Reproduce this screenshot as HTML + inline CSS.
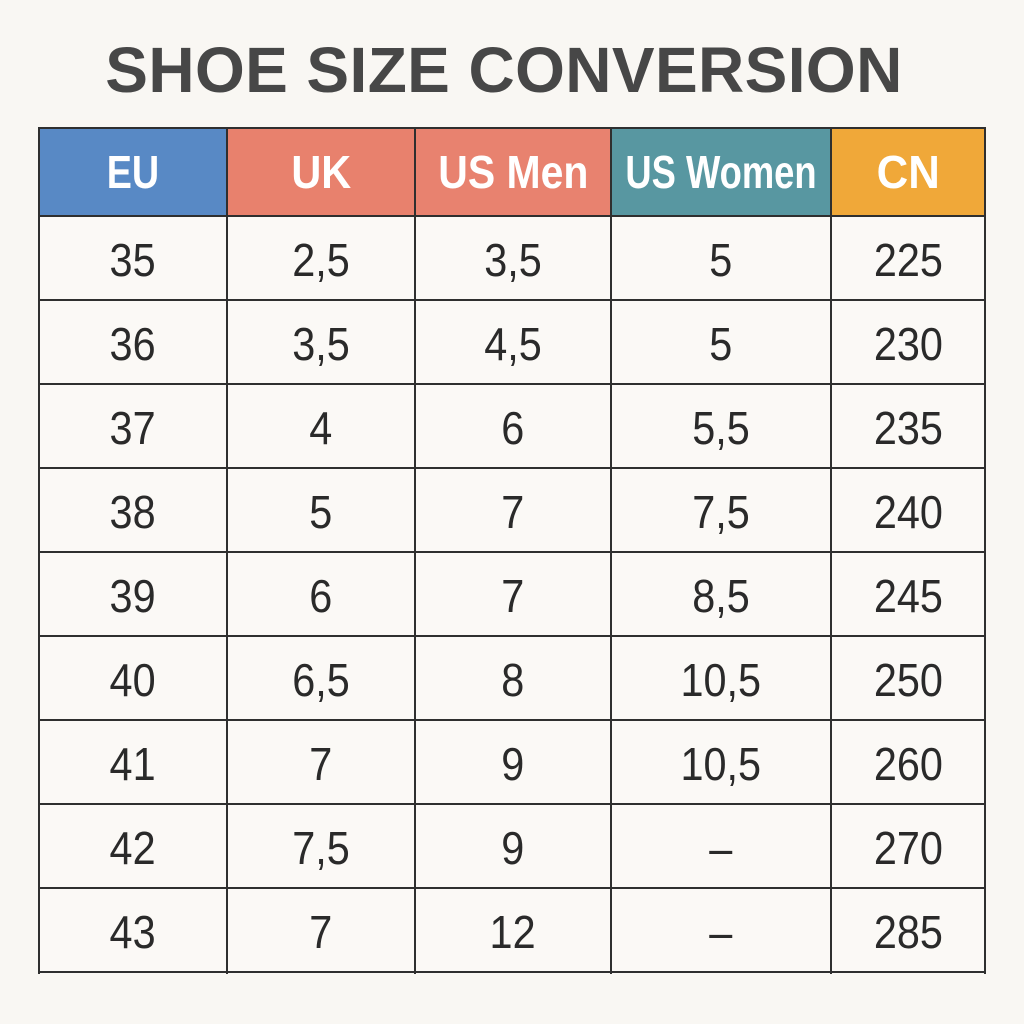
<!DOCTYPE html>
<html>
<head>
<meta charset="utf-8">
<style>
  html, body { margin:0; padding:0; }
  body { width:1024px; height:1024px; background:#f9f7f3; position:relative; overflow:hidden;
         font-family:"Liberation Sans", "DejaVu Sans", sans-serif; }
  .title { position:absolute; left:0; width:1008px; top:30px; height:80px; display:flex;
           align-items:center; justify-content:center; font-size:64px; font-weight:bold;
           color:#474747; letter-spacing:0.4px; }
  .cell { position:absolute; display:flex; align-items:center; justify-content:center; }
  .hd { font-weight:bold; color:#ffffff; font-size:46px; }
  .num { color:#2a2a2a; font-size:46px; padding-top:4px; box-sizing:border-box; }
  .cell span { display:inline-block; white-space:nowrap; }
  .num span { transform:scaleX(0.9); }
  .hl { position:absolute; left:38px; width:948px; height:2px; background:#2f2f2f; }
  .vl { position:absolute; top:127px; height:847px; width:2px; background:#2f2f2f; }
</style>
</head>
<body>
<div class="title">SHOE SIZE CONVERSION</div>

<!-- table background -->
<div style="position:absolute;left:39px;top:128px;width:946px;height:844px;background:#fbf9f6;"></div>

<!-- header fills -->
<div class="cell hd" style="left:39px;top:128px;width:188px;height:88px;background:#5889c5;"><span style="transform:scaleX(0.82)">EU</span></div>
<div class="cell hd" style="left:227px;top:128px;width:188px;height:88px;background:#e8816d;"><span style="transform:scaleX(0.9)">UK</span></div>
<div class="cell hd" style="left:415px;top:128px;width:196px;height:88px;background:#e8826f;"><span style="transform:scaleX(0.89)">US Men</span></div>
<div class="cell hd" style="left:611px;top:128px;width:220px;height:88px;background:#5897a1;"><span style="transform:scaleX(0.79)">US Women</span></div>
<div class="cell hd" style="left:831px;top:128px;width:154px;height:88px;background:#f0a839;"><span style="transform:scaleX(0.95)">CN</span></div>

<!-- rows -->
<!-- columns: 39-227, 227-415, 415-611, 611-831, 831-985 -->
<div class="cell num" style="left:39px;top:216px;width:188px;height:84px;"><span>35</span></div>
<div class="cell num" style="left:227px;top:216px;width:188px;height:84px;"><span>2,5</span></div>
<div class="cell num" style="left:415px;top:216px;width:196px;height:84px;"><span>3,5</span></div>
<div class="cell num" style="left:611px;top:216px;width:220px;height:84px;"><span>5</span></div>
<div class="cell num" style="left:831px;top:216px;width:154px;height:84px;"><span>225</span></div>

<div class="cell num" style="left:39px;top:300px;width:188px;height:84px;"><span>36</span></div>
<div class="cell num" style="left:227px;top:300px;width:188px;height:84px;"><span>3,5</span></div>
<div class="cell num" style="left:415px;top:300px;width:196px;height:84px;"><span>4,5</span></div>
<div class="cell num" style="left:611px;top:300px;width:220px;height:84px;"><span>5</span></div>
<div class="cell num" style="left:831px;top:300px;width:154px;height:84px;"><span>230</span></div>

<div class="cell num" style="left:39px;top:384px;width:188px;height:84px;"><span>37</span></div>
<div class="cell num" style="left:227px;top:384px;width:188px;height:84px;"><span>4</span></div>
<div class="cell num" style="left:415px;top:384px;width:196px;height:84px;"><span>6</span></div>
<div class="cell num" style="left:611px;top:384px;width:220px;height:84px;"><span>5,5</span></div>
<div class="cell num" style="left:831px;top:384px;width:154px;height:84px;"><span>235</span></div>

<div class="cell num" style="left:39px;top:468px;width:188px;height:84px;"><span>38</span></div>
<div class="cell num" style="left:227px;top:468px;width:188px;height:84px;"><span>5</span></div>
<div class="cell num" style="left:415px;top:468px;width:196px;height:84px;"><span>7</span></div>
<div class="cell num" style="left:611px;top:468px;width:220px;height:84px;"><span>7,5</span></div>
<div class="cell num" style="left:831px;top:468px;width:154px;height:84px;"><span>240</span></div>

<div class="cell num" style="left:39px;top:552px;width:188px;height:84px;"><span>39</span></div>
<div class="cell num" style="left:227px;top:552px;width:188px;height:84px;"><span>6</span></div>
<div class="cell num" style="left:415px;top:552px;width:196px;height:84px;"><span>7</span></div>
<div class="cell num" style="left:611px;top:552px;width:220px;height:84px;"><span>8,5</span></div>
<div class="cell num" style="left:831px;top:552px;width:154px;height:84px;"><span>245</span></div>

<div class="cell num" style="left:39px;top:636px;width:188px;height:84px;"><span>40</span></div>
<div class="cell num" style="left:227px;top:636px;width:188px;height:84px;"><span>6,5</span></div>
<div class="cell num" style="left:415px;top:636px;width:196px;height:84px;"><span>8</span></div>
<div class="cell num" style="left:611px;top:636px;width:220px;height:84px;"><span>10,5</span></div>
<div class="cell num" style="left:831px;top:636px;width:154px;height:84px;"><span>250</span></div>

<div class="cell num" style="left:39px;top:720px;width:188px;height:84px;"><span>41</span></div>
<div class="cell num" style="left:227px;top:720px;width:188px;height:84px;"><span>7</span></div>
<div class="cell num" style="left:415px;top:720px;width:196px;height:84px;"><span>9</span></div>
<div class="cell num" style="left:611px;top:720px;width:220px;height:84px;"><span>10,5</span></div>
<div class="cell num" style="left:831px;top:720px;width:154px;height:84px;"><span>260</span></div>

<div class="cell num" style="left:39px;top:804px;width:188px;height:84px;"><span>42</span></div>
<div class="cell num" style="left:227px;top:804px;width:188px;height:84px;"><span>7,5</span></div>
<div class="cell num" style="left:415px;top:804px;width:196px;height:84px;"><span>9</span></div>
<div class="cell num" style="left:611px;top:804px;width:220px;height:84px;"><span>–</span></div>
<div class="cell num" style="left:831px;top:804px;width:154px;height:84px;"><span>270</span></div>

<div class="cell num" style="left:39px;top:888px;width:188px;height:84px;"><span>43</span></div>
<div class="cell num" style="left:227px;top:888px;width:188px;height:84px;"><span>7</span></div>
<div class="cell num" style="left:415px;top:888px;width:196px;height:84px;"><span>12</span></div>
<div class="cell num" style="left:611px;top:888px;width:220px;height:84px;"><span>–</span></div>
<div class="cell num" style="left:831px;top:888px;width:154px;height:84px;"><span>285</span></div>

<!-- horizontal lines -->
<div class="hl" style="top:127px;"></div>
<div class="hl" style="top:215px;"></div>
<div class="hl" style="top:299px;"></div>
<div class="hl" style="top:383px;"></div>
<div class="hl" style="top:467px;"></div>
<div class="hl" style="top:551px;"></div>
<div class="hl" style="top:635px;"></div>
<div class="hl" style="top:719px;"></div>
<div class="hl" style="top:803px;"></div>
<div class="hl" style="top:887px;"></div>
<div class="hl" style="top:971px;"></div>

<!-- vertical lines -->
<div class="vl" style="left:38px;"></div>
<div class="vl" style="left:226px;"></div>
<div class="vl" style="left:414px;"></div>
<div class="vl" style="left:610px;"></div>
<div class="vl" style="left:830px;"></div>
<div class="vl" style="left:984px;"></div>
</body>
</html>
